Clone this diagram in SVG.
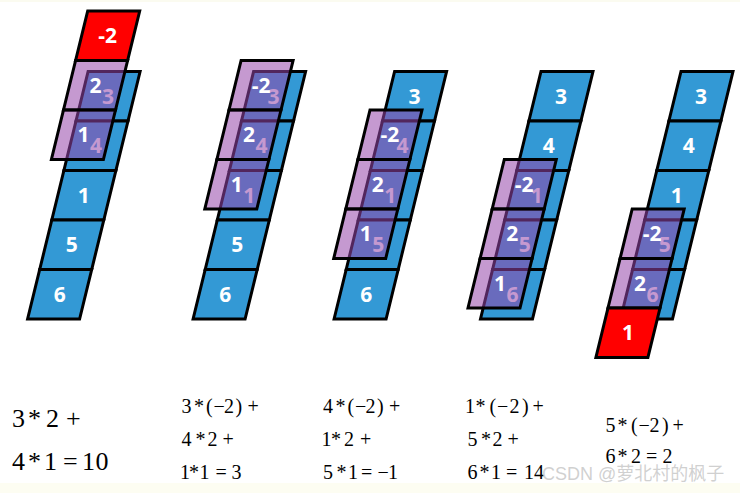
<svg xmlns="http://www.w3.org/2000/svg" xmlns:xlink="http://www.w3.org/1999/xlink" width="740" height="493" viewBox="0 0 740 493">
<style>
.b{fill:#3399D5;stroke:#000;stroke-width:3;stroke-linejoin:miter}
.r{fill:#FF0000;stroke:#000;stroke-width:3}
.k{fill:rgb(150,70,170);fill-opacity:0.55;stroke:#000;stroke-width:3}
.t{font-family:"Open Sans","Liberation Sans",sans-serif;font-weight:700;font-size:21px;fill:#fff;text-anchor:middle}
.m{font-family:"Liberation Serif","Times New Roman",serif;font-size:20px;fill:#000}
.m1{font-family:"Liberation Serif","Times New Roman",serif;font-size:26px;fill:#000}
.w{font-family:"Liberation Sans","Noto Sans CJK SC",sans-serif;font-size:18px;fill:#c8c8c8;fill-opacity:0.85}
</style>
<defs>
<path id="cell" d="M0,0 H52 L39.9,49.5 H-12.1 Z"/>
</defs>
<rect width="740" height="493" fill="#fff"/>
<rect x="0" y="0" width="740" height="2" fill="#FBFBF0"/>
<rect x="0" y="483" width="740" height="10" fill="#FDFDF2"/>

<!-- Column 1 -->
<g id="col1">
<g id="c1-b3"><use href="#cell" class="b" x="88.1" y="71.5"/><text class="t" x="108.05" y="103.75">3</text></g>
<g id="c1-b4"><use href="#cell" class="b" x="76" y="121"/><text class="t" x="95.95" y="153.25">4</text></g>
<g id="c1-b1"><use href="#cell" class="b" x="63.9" y="170.5"/><text class="t" x="83.85" y="202.75">1</text></g>
<g id="c1-b5"><use href="#cell" class="b" x="51.8" y="220"/><text class="t" x="71.75" y="252.25">5</text></g>
<g id="c1-b6"><use href="#cell" class="b" x="39.7" y="269.5"/><text class="t" x="59.65" y="301.75">6</text></g>
<g id="c1-k0"><use href="#cell" class="r" x="87.7" y="11"/><text class="t" x="107.65" y="43.25">-2</text></g>
<g id="c1-k1"><use href="#cell" class="k" x="75.6" y="60.5"/><text class="t" x="95.55" y="92.75">2</text></g>
<g id="c1-k2"><use href="#cell" class="k" x="63.5" y="110"/><text class="t" x="83.45" y="142.25">1</text></g>
</g>

<!-- Column 2 -->
<g id="col2">
<g id="c2-b3"><use href="#cell" class="b" x="253.6" y="71.5"/><text class="t" x="273.55" y="103.75">3</text></g>
<g id="c2-b4"><use href="#cell" class="b" x="241.5" y="121"/><text class="t" x="261.45" y="153.25">4</text></g>
<g id="c2-b1"><use href="#cell" class="b" x="229.4" y="170.5"/><text class="t" x="249.35" y="202.75">1</text></g>
<g id="c2-b5"><use href="#cell" class="b" x="217.3" y="220"/><text class="t" x="237.25" y="252.25">5</text></g>
<g id="c2-b6"><use href="#cell" class="b" x="205.2" y="269.5"/><text class="t" x="225.15" y="301.75">6</text></g>
<g id="c2-k0"><use href="#cell" class="k" x="241.1" y="60.5"/><text class="t" x="261.05" y="92.75">-2</text></g>
<g id="c2-k1"><use href="#cell" class="k" x="229" y="110"/><text class="t" x="248.95" y="142.25">2</text></g>
<g id="c2-k2"><use href="#cell" class="k" x="216.9" y="159.5"/><text class="t" x="236.85" y="191.75">1</text></g>
</g>

<!-- Column 3 -->
<g id="col3">
<g id="c3-b3"><use href="#cell" class="b" x="394.6" y="71.5"/><text class="t" x="414.55" y="103.75">3</text></g>
<g id="c3-b4"><use href="#cell" class="b" x="382.5" y="121"/><text class="t" x="402.45" y="153.25">4</text></g>
<g id="c3-b1"><use href="#cell" class="b" x="370.4" y="170.5"/><text class="t" x="390.35" y="202.75">1</text></g>
<g id="c3-b5"><use href="#cell" class="b" x="358.3" y="220"/><text class="t" x="378.25" y="252.25">5</text></g>
<g id="c3-b6"><use href="#cell" class="b" x="346.2" y="269.5"/><text class="t" x="366.15" y="301.75">6</text></g>
<g id="c3-k0"><use href="#cell" class="k" x="370" y="110"/><text class="t" x="389.95" y="142.25">-2</text></g>
<g id="c3-k1"><use href="#cell" class="k" x="357.9" y="159.5"/><text class="t" x="377.85" y="191.75">2</text></g>
<g id="c3-k2"><use href="#cell" class="k" x="345.8" y="209"/><text class="t" x="365.75" y="241.25">1</text></g>
</g>

<!-- Column 4 -->
<g id="col4">
<g id="c4-b3"><use href="#cell" class="b" x="541" y="71.5"/><text class="t" x="560.95" y="103.75">3</text></g>
<g id="c4-b4"><use href="#cell" class="b" x="528.9" y="121"/><text class="t" x="548.85" y="153.25">4</text></g>
<g id="c4-b1"><use href="#cell" class="b" x="516.8" y="170.5"/><text class="t" x="536.75" y="202.75">1</text></g>
<g id="c4-b5"><use href="#cell" class="b" x="504.7" y="220"/><text class="t" x="524.65" y="252.25">5</text></g>
<g id="c4-b6"><use href="#cell" class="b" x="492.6" y="269.5"/><text class="t" x="512.55" y="301.75">6</text></g>
<g id="c4-k0"><use href="#cell" class="k" x="504.3" y="159.5"/><text class="t" x="524.25" y="191.75">-2</text></g>
<g id="c4-k1"><use href="#cell" class="k" x="492.2" y="209"/><text class="t" x="512.15" y="241.25">2</text></g>
<g id="c4-k2"><use href="#cell" class="k" x="480.1" y="258.5"/><text class="t" x="500.05" y="290.75">1</text></g>
</g>

<!-- Column 5 -->
<g id="col5">
<g id="c5-b3"><use href="#cell" class="b" x="681" y="71.5"/><text class="t" x="700.95" y="103.75">3</text></g>
<g id="c5-b4"><use href="#cell" class="b" x="668.9" y="121"/><text class="t" x="688.85" y="153.25">4</text></g>
<g id="c5-b1"><use href="#cell" class="b" x="656.8" y="170.5"/><text class="t" x="676.75" y="202.75">1</text></g>
<g id="c5-b5"><use href="#cell" class="b" x="644.7" y="220"/><text class="t" x="664.65" y="252.25">5</text></g>
<g id="c5-b6"><use href="#cell" class="b" x="632.6" y="269.5"/><text class="t" x="652.55" y="301.75">6</text></g>
<g id="c5-k0"><use href="#cell" class="k" x="632.2" y="209"/><text class="t" x="652.15" y="241.25">-2</text></g>
<g id="c5-k1"><use href="#cell" class="k" x="620.1" y="258.5"/><text class="t" x="640.05" y="290.75">2</text></g>
<g id="c5-k2"><use href="#cell" class="r" x="608" y="308"/><text class="t" x="627.95" y="340.25">1</text></g>
</g>

<!-- Formulas -->
<g id="formulas">
<text class="m1" x="12 28 46 66" y="427">3*2+</text>
<text class="m1" x="12 28 44 63 82 95.5" y="470">4*1=10</text>

<text class="m" x="181.5 194 206 213.5 224 235.5 247.5" y="413">3*(−2)+</text>
<text class="m" x="181.5 195.5 207.5 222.5" y="446">4*2+</text>
<text class="m" x="180 189 199.5 215.5 231.5" y="479">1*1=3</text>

<text class="m" x="323 335.5 347.5 355 365.5 377 389" y="413">4*(−2)+</text>
<text class="m" x="321.5 331 344 360" y="446">1*2+</text>
<text class="m" x="323 336.5 348 361 377.5 388" y="479">5*1=−1</text>

<text class="m" x="465 475.5 489.5 497 509.5 522 532.5" y="413">1*(−2)+</text>
<text class="m" x="467.5 481 492.5 507.5" y="446">5*2+</text>
<text class="m" x="467.5 479.5 491 506 524 534" y="479">6*1=14</text>

<text class="m" x="605.5 617.5 631 638.5 649.5 662 672.5" y="432">5*(−2)+</text>
<text class="m" x="605.5 617.5 631 646 662.5" y="463">6*2=2</text>
</g>

<text class="w" x="542" y="480">CSDN @萝北村的枫子</text>
</svg>
